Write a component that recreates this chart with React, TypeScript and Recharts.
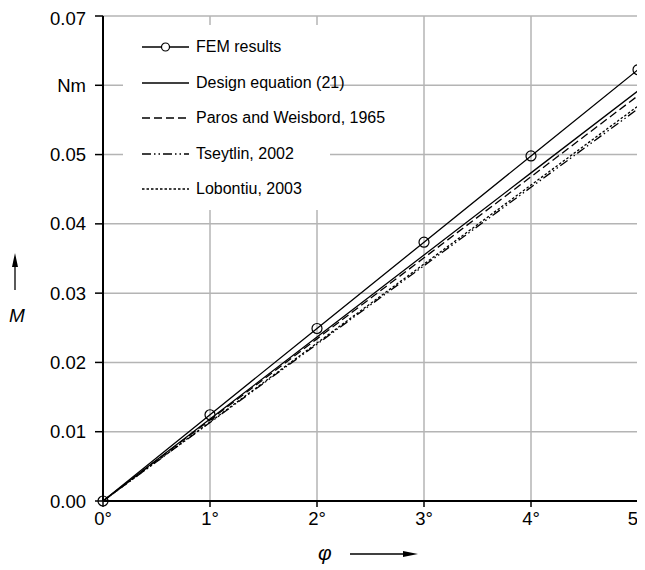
import { LineChart, Line, XAxis, YAxis, CartesianGrid, Customized } from "recharts";

const ANGLES = [0, 1, 2, 3, 4, 5];
const FEM = [0, 0.01245, 0.0249, 0.03735, 0.0498, 0.06225];
const DESIGN = [0, 0.01184, 0.02368, 0.03552, 0.04736, 0.0592];
const PAROS = [0, 0.0117, 0.0234, 0.0351, 0.0468, 0.0585];
const TSEYTLIN = [0, 0.01132, 0.02264, 0.03396, 0.04528, 0.0566];
const LOBONTIU = [0, 0.0114, 0.0228, 0.0342, 0.0456, 0.057];
const Y_TICKS = [0, 0.01, 0.02, 0.03, 0.04, 0.05, 0.06, 0.07];

const SERIES = [
  { key: "fem", name: "FEM results", dash: undefined as string | undefined, dot: true },
  { key: "design", name: "Design equation (21)", dash: undefined, dot: false },
  { key: "paros", name: "Paros and Weisbord, 1965", dash: "8 4", dot: false },
  { key: "tseytlin", name: "Tseytlin, 2002", dash: "9 3 1.5 3 1.5 3", dot: false },
  { key: "lobontiu", name: "Lobontiu, 2003", dash: "2.5 2", dot: false },
];

const data = ANGLES.map((a, i) => ({
  phi: a,
  fem: FEM[i],
  design: DESIGN[i],
  paros: PAROS[i],
  tseytlin: TSEYTLIN[i],
  lobontiu: LOBONTIU[i],
}));

const FONT = '"Liberation Sans", Arial, sans-serif';
const tickStyle = { fontSize: 18.5, fill: "#000", fontFamily: FONT };

// axis captions with arrows (M up, phi right)
function AxisDecor() {
  return (
    <g>
      <text x={1} y={314} fontSize={19} fontStyle="italic" fontFamily={FONT} fill="#000">M</text>
      <line x1={7} y1={282} x2={7} y2={258} stroke="#000" strokeWidth={1.3} />
      <polygon points="7,245 4,259 10,259" fill="#000" />
      <text x={310} y={552} fontSize={21} fontStyle="italic" fontFamily={FONT} fill="#000">φ</text>
      <line x1={342} y1={546} x2={396} y2={546} stroke="#000" strokeWidth={1.3} />
      <polygon points="410,546 395,543 395,549" fill="#000" />
    </g>
  );
}

function LegendBox() {
  return (
    <div
      style={{
        position: "absolute",
        left: 115,
        top: 17,
        width: 207,
        height: 185,
        background: "#fff",
        fontFamily: FONT,
        fontSize: 16,
        color: "#000",
      }}
    >
      {SERIES.map((s, i) => (
        <div
          key={s.key}
          style={{ position: "absolute", left: 19, top: 22 + i * 35.5 - 10, height: 20, display: "flex", alignItems: "center" }}
        >
          <svg width={48} height={20}>
            <line x1={0} y1={10} x2={47} y2={10} stroke="#000" strokeWidth={1.3} strokeDasharray={s.dash} />
            {s.dot && <circle cx={23.5} cy={10} r={4} fill="#fff" stroke="#000" strokeWidth={1.2} />}
          </svg>
          <span style={{ marginLeft: 6, whiteSpace: "nowrap" }}>{s.name}</span>
        </div>
      ))}
    </div>
  );
}

export default function App() {
  return (
    <div style={{ position: "relative", width: 637, height: 562 }}>
      <LineChart width={637} height={562} data={data} margin={{ top: 8, right: 7, left: 0, bottom: 39 }}>
        <CartesianGrid stroke="#b4b4b4" strokeWidth={1.5} />
        <XAxis
          dataKey="phi"
          type="number"
          domain={[0, 5]}
          ticks={ANGLES}
          tickFormatter={(v: number) => `${v}°`}
          tick={tickStyle}
          axisLine={{ stroke: "#000", strokeWidth: 2 }}
          tickLine={{ stroke: "#000", strokeWidth: 1.5 }}
          tickSize={6}
          tickMargin={5}
          height={30}
        />
        <YAxis
          type="number"
          domain={[0, 0.07]}
          ticks={Y_TICKS}
          tickFormatter={(v: number) => (Math.abs(v - 0.06) < 1e-9 ? "Nm" : v.toFixed(2))}
          tick={tickStyle}
          axisLine={{ stroke: "#000", strokeWidth: 2 }}
          tickLine={{ stroke: "#000", strokeWidth: 1.5 }}
          tickSize={8}
          tickMargin={9}
          width={95}
        />
        {SERIES.map((s) => (
          <Line
            key={s.key}
            dataKey={s.key}
            name={s.name}
            type="linear"
            stroke="#000"
            strokeWidth={1.3}
            strokeDasharray={s.dash}
            dot={s.dot ? { r: 5, fill: "none", stroke: "#000", strokeWidth: 1.2 } : false}
            activeDot={false}
            isAnimationActive={false}
          />
        ))}
        <Customized component={AxisDecor} />
      </LineChart>
      <LegendBox />
    </div>
  );
}
